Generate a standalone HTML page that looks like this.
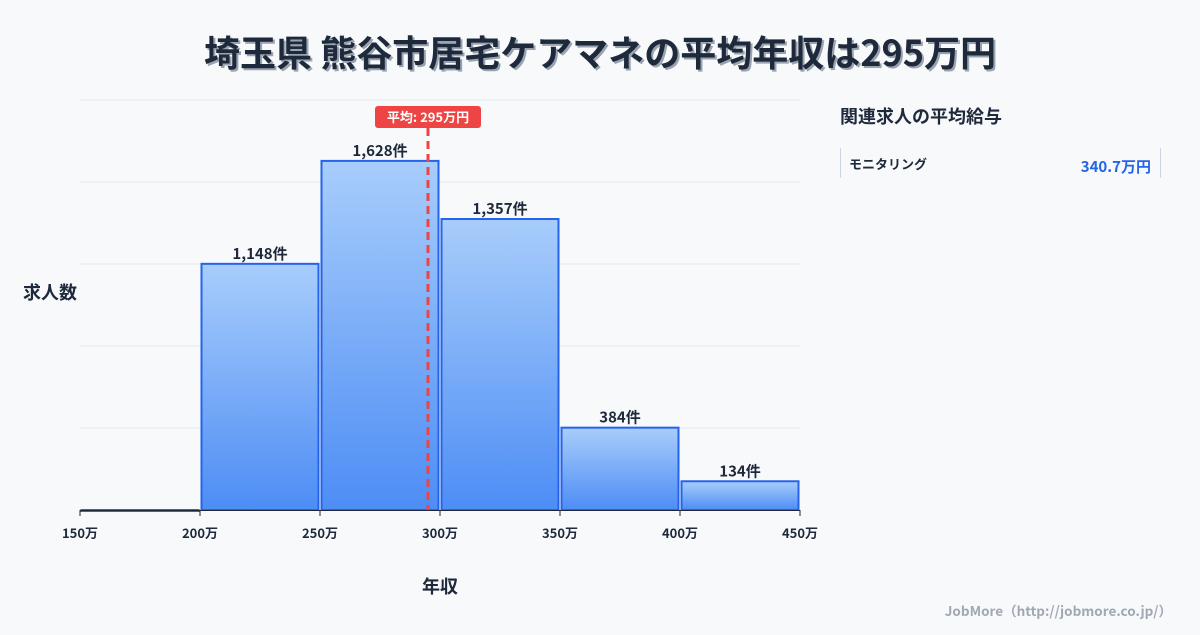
<!DOCTYPE html>
<html><head><meta charset="utf-8">
<style>
body{margin:0;background:#f8f9fb;}
svg text{font-family:"Noto Sans CJK JP","Liberation Sans",sans-serif;}
</style></head>
<body>
<svg width="1200" height="630" viewBox="0 0 1200 630">
<defs>
<linearGradient id="bg" x1="0" y1="0" x2="0" y2="1">
<stop offset="0" stop-color="#a8cdfb"/><stop offset="1" stop-color="#4d8df5"/>
</linearGradient>
</defs>
<rect width="1200" height="630" fill="#f8f9fb"/>
<text x="602" y="68" text-anchor="middle" font-size="36" font-weight="bold" fill="#9aa3b0">埼玉県 熊谷市居宅ケアマネの平均年収は295万円</text>
<text x="600" y="66" text-anchor="middle" font-size="36" font-weight="bold" fill="#1e293b">埼玉県 熊谷市居宅ケアマネの平均年収は295万円</text>
<g id="grid"></g>
<g id="bars"></g>
<g id="xaxis"></g>
<text x="50" y="299" text-anchor="middle" font-size="18" font-weight="bold" fill="#1e293b">求人数</text>
<text x="440" y="593" text-anchor="middle" font-size="18" font-weight="bold" fill="#1e293b">年収</text>
<g id="avg"></g>
<text x="840" y="123" font-size="18" font-weight="bold" fill="#1e293b">関連求人の平均給与</text>
<g>
<line x1="840.5" y1="148" x2="840.5" y2="178" stroke="#cbd5e1"/>
<line x1="1160.5" y1="148" x2="1160.5" y2="178" stroke="#cbd5e1"/>
<text x="849" y="169" font-size="13" font-weight="bold" fill="#1e293b">モニタリング</text>
<text x="1151" y="172" text-anchor="end" font-size="15" font-weight="bold" fill="#2563eb">340.7万円</text>
</g>
<text x="1172" y="616" text-anchor="end" font-size="13.5" font-weight="bold" fill="#a0a8b4">JobMore（http://jobmore.co.jp/）</text>
</svg>
<script>
const binStarts=[150,200,250,300,350,400];
const counts=[0,1148,1628,1357,384,134];
const countLabels=["","1,148件","1,628件","1,357件","384件","134件"];
const xTicks=[150,200,250,300,350,400,450];
const avgValue=295;
const avgLabel="平均: 295万円";
const yMax=1912;
const NS="http://www.w3.org/2000/svg";
const X0=80,X1=800,Y0=510,Y1=100,xmin=150,xmax=450;
const xs=v=>X0+(v-xmin)/(xmax-xmin)*(X1-X0);
const ys=v=>Y0-v/yMax*(Y0-Y1);
function mk(tag,attrs,parent,text){const e=document.createElementNS(NS,tag);for(const k in attrs)e.setAttribute(k,attrs[k]);if(text!==undefined)e.textContent=text;parent.appendChild(e);return e;}
const grid=document.getElementById('grid');
for(let i=0;i<=5;i++){const y=Y1+i*(Y0-Y1)/5;
const l=mk('line',{x1:X0,x2:X1,y1:y,y2:y,stroke:'#e5e9ef','stroke-width':1},grid);

}
const bars=document.getElementById('bars');
binStarts.forEach((b,i)=>{
const x=xs(b)+1.5,w=xs(b+50)-xs(b)-3,y=ys(counts[i]);
const r=mk('rect',{x:x,y:y,width:w,height:Math.max(Y0-y,1),fill:'url(#bg)',stroke:'#2563eb','stroke-width':2},bars);


if(countLabels[i]){const t=mk('text',{x:x+w/2,y:y-5,'text-anchor':'middle','font-size':15,'font-weight':'bold',fill:'#1e293b'},bars,countLabels[i]);

}
});
const xa=document.getElementById('xaxis');
const ax=mk('line',{x1:X0,x2:X1,y1:Y0+0.5,y2:Y0+0.5,stroke:'#1e293b','stroke-width':1},xa);


xTicks.forEach(v=>{
const tk=mk('line',{x1:xs(v),x2:xs(v),y1:Y0,y2:Y0+6,stroke:'#1e293b'},xa);


const t=mk('text',{x:xs(v),y:Y0+28,'text-anchor':'middle','font-size':13,'font-weight':'bold',fill:'#1e293b'},xa,v+'万');


});
const avg=document.getElementById('avg');
const ax2=xs(avgValue);
const al=mk('line',{x1:ax2,x2:ax2,y1:128,y2:Y0,stroke:'#ef4444','stroke-width':3,'stroke-dasharray':'8,5'},avg);


const ar=mk('rect',{x:ax2-53,y:106,width:106,height:22,rx:3,fill:'#ef4444'},avg);


const at=mk('text',{x:ax2,y:122,'text-anchor':'middle','font-size':13,'font-weight':'bold',fill:'#fff'},avg,avgLabel);


</script>
</body></html>
